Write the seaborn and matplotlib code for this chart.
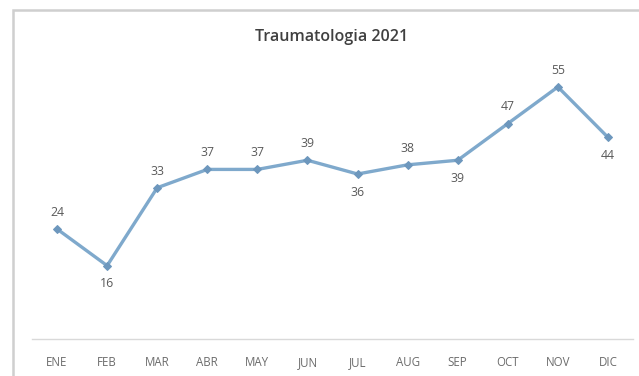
import matplotlib
matplotlib.use("Agg")
import matplotlib.pyplot as plt
import seaborn as sns
import pandas as pd
from matplotlib.patches import Rectangle

months = ["ENE", "FEB", "MAR", "ABR", "MAY", "JUN", "JUL", "AUG", "SEP", "OCT", "NOV", "DIC"]
cases = [24, 16, 33, 37, 37, 39, 36, 38, 39, 47, 55, 44]
label_below = ["FEB", "JUL", "SEP", "DIC"]
title = "Traumatologia 2021"

sns.set_theme(style="white")
plt.rcParams["font.family"] = ["Open Sans", "DejaVu Sans"]

df = pd.DataFrame({"mes": months, "casos": cases, "x": range(len(months))})

W, H = 639, 376
fig = plt.figure(figsize=(W / 100, H / 100), dpi=100)
fig.patch.set_facecolor("white")

# outer chart frame
fig.patches.append(Rectangle((13 / W, -0.1), 1.2, (H - 10) / H + 0.1,
                             transform=fig.transFigure, fill=False,
                             edgecolor="#cfcfcf", linewidth=1.8))

ax = fig.add_axes([32 / W, (H - 339) / H, (633 - 32) / W, (339 - 64) / H])
line_color = "#7fa9cc"
sns.lineplot(data=df, x="x", y="casos", ax=ax, color=line_color, linewidth=2.4,
             marker="D", markersize=4, markeredgecolor="#6d97bd", markerfacecolor="#6d97bd")

ax.set_xlim(-0.5, len(months) - 0.5)
ax.set_ylim(0, 60)
ax.set_xticks(df["x"])
ax.set_xticklabels(months)
ax.set_yticks([])
ax.set_xlabel("")
ax.set_ylabel("")
ax.tick_params(axis="x", length=0, pad=12, labelsize=8.3, labelcolor="#6b6b6b")
for s in ["top", "left", "right"]:
    ax.spines[s].set_visible(False)
ax.spines["bottom"].set_color("#d9d9d9")
ax.spines["bottom"].set_linewidth(1.0)
ax.set_facecolor("white")

for xi, m, v in zip(df["x"], months, cases):
    below = m in label_below
    ax.annotate(str(v), (xi, v), xytext=(0, -13 if below else 12),
                textcoords="offset points", ha="center", va="center",
                fontsize=8.8, color="#5a5a5a")

fig.text(332 / W, 1 - 37 / H, title, ha="center", va="center",
         fontsize=11.5, fontweight="semibold", color="#404040")

fig.savefig("out.png", dpi=100, facecolor="white")
